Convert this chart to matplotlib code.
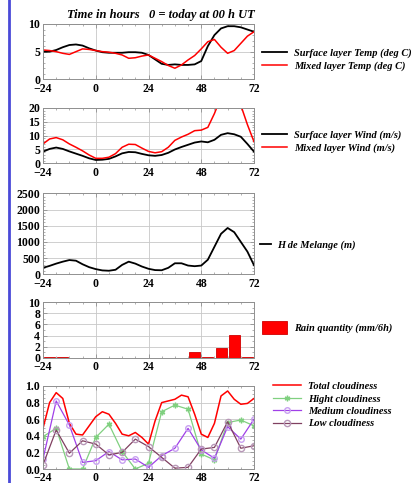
import matplotlib
matplotlib.use('Agg')
import matplotlib.pyplot as plt
from matplotlib.lines import Line2D
from matplotlib.ticker import MultipleLocator

plt.rcParams['font.family'] = ['Liberation Serif', 'DejaVu Serif']
plt.rcParams['font.weight'] = 'bold'

# DATA (3 h steps for the curves, 6 h for clouds)
hours = list(range(-24, 73, 3))
temp_surface = [5.0, 5.0, 5.3, 5.8, 6.2, 6.3, 6.1, 5.6, 5.2, 4.9, 4.8, 4.8, 4.8, 4.9, 4.9, 4.8, 4.4,
                3.6, 2.8, 2.6, 2.7, 2.6, 2.6, 2.7, 3.3, 6.0, 8.0, 9.2, 9.6, 9.6, 9.4, 9.0, 8.6]
temp_mixed = [5.3, 5.2, 5.0, 4.7, 4.5, 5.0, 5.5, 5.4, 5.2, 5.0, 4.9, 4.7, 4.4, 3.8, 3.9, 4.2, 4.4,
              3.8, 3.2, 2.5, 2.0, 2.6, 3.5, 4.3, 5.5, 6.8, 7.2, 5.8, 4.7, 5.2, 6.5, 7.8, 8.6]
wind_surface = [4.2, 5.2, 5.7, 5.2, 4.3, 3.5, 2.7, 1.8, 1.2, 1.3, 1.6, 2.5, 3.6, 4.1, 4.0, 3.4, 2.9,
                2.7, 3.0, 3.8, 5.0, 5.9, 6.7, 7.5, 7.9, 7.6, 8.5, 10.3, 10.9, 10.5, 9.6, 7.0, 4.2]
wind_mixed = [7.0, 8.8, 9.3, 8.5, 7.0, 5.8, 4.5, 3.0, 1.8, 1.8, 2.2, 3.5, 5.8, 6.9, 6.8, 5.5, 4.3,
              3.8, 4.2, 5.8, 8.3, 9.5, 10.5, 11.8, 12.0, 13.0, 18.0, 24.0, 30.0, 28.0, 21.0, 14.0, 7.8]
mixing_height = [200, 260, 330, 390, 440, 420, 310, 220, 160, 120, 110, 140, 290, 390, 330, 240, 170,
                 130, 125, 200, 340, 340, 270, 250, 270, 450, 850, 1250, 1430, 1300, 1000, 700, 280]

rain_hours = list(range(-21, 70, 6))
rain = [0.1, 0.1, 0, 0, 0, 0, 0, 0, 0, 0, 0, 1.0, 0.2, 1.7, 4.1, 0.1]

cloud_hours = list(range(-24, 73, 6))
cloud_total = [0.49, 0.80, 0.92, 0.85, 0.55, 0.42, 0.41, 0.52, 0.63, 0.69, 0.66, 0.55, 0.42, 0.40, 0.44,
               0.38, 0.30, 0.58, 0.80, 0.82, 0.84, 0.89, 0.87, 0.66, 0.42, 0.38, 0.55, 0.88, 0.94, 0.84,
               0.78, 0.79, 0.85]
cloud_high = [0.39, 0.49, 0.0, 0.0, 0.38, 0.54, 0.21, 0.0, 0.07, 0.69, 0.77, 0.72, 0.18, 0.11, 0.56, 0.59, 0.52]
cloud_medium = [0.12, 0.82, 0.53, 0.08, 0.10, 0.21, 0.11, 0.12, 0.02, 0.16, 0.25, 0.49, 0.23, 0.13, 0.51, 0.36, 0.60]
cloud_low = [0.05, 0.47, 0.19, 0.34, 0.30, 0.17, 0.20, 0.36, 0.27, 0.14, 0.01, 0.02, 0.24, 0.26, 0.57, 0.25, 0.28]

W, H = 411, 483
fig = plt.figure(figsize=(W / 100, H / 100), dpi=100)
fig.add_artist(Line2D([9 / W, 9 / W], [0, 1], color='#4a4ad8', lw=2))


def make_axes(top, bottom):
    ax = fig.add_axes([43 / W, 1 - bottom / H, 211 / W, (bottom - top) / H])
    ax.set_xlim(-24, 72)
    ax.set_xticks([-24, 0, 24, 48, 72])
    ax.set_xticklabels(['\u221224', '0', '24', '48', '72'])
    ax.xaxis.set_minor_locator(MultipleLocator(6))
    ax.tick_params(which='both', direction='in', top=True, right=True, colors='#909090',
                   labelcolor='black', labelsize=8.5, pad=2)
    ax.tick_params(axis='x', pad=2.5)
    ax.tick_params(which='major', length=3, width=0.6)
    ax.tick_params(which='minor', length=1.5, width=0.5)
    ax.grid(True, which='major', color='#c8c8c8', lw=0.6)
    for s in ax.spines.values():
        s.set_color('#909090')
        s.set_linewidth(0.7)
    return ax


leg_kw = dict(frameon=False, loc='center left', prop=dict(style='italic', weight='bold', size=7.5),
              handletextpad=0.65, labelspacing=0.3, borderaxespad=0)

# panel 1 : temperature
ax1 = make_axes(24, 79.3)
ax1.plot(hours, temp_surface, color='black', lw=1.3, label='Surface layer Temp (deg C)')
ax1.plot(hours, temp_mixed, color='red', lw=1.1, label='Mixed layer Temp (deg C)')
ax1.set_ylim(0, 10)
ax1.yaxis.set_major_locator(MultipleLocator(5))
ax1.yaxis.set_minor_locator(MultipleLocator(1))
ax1.legend(bbox_to_anchor=(1.02, 0.36), handlelength=2.4, **leg_kw)
ax1.set_title('Time in hours   0 = today at 00 h UT', fontsize=9, style='italic',
              fontweight='bold', pad=4, x=0.56)

# panel 2 : wind
ax2 = make_axes(108, 163.3)
ax2.plot(hours, wind_surface, color='black', lw=1.3, label='Surface layer Wind (m/s)')
ax2.plot(hours, wind_mixed, color='red', lw=1.1, label='Mixed layer Wind (m/s)')
ax2.set_ylim(0, 20)
ax2.yaxis.set_major_locator(MultipleLocator(5))
ax2.yaxis.set_minor_locator(MultipleLocator(1))
ax2.legend(bbox_to_anchor=(1.02, 0.39), handlelength=2.4, **leg_kw)

# panel 3 : mixing height
ax3 = make_axes(193.3, 274.3)
ax3.plot(hours, mixing_height, color='black', lw=1.3, label='H de Melange (m)')
ax3.set_ylim(0, 2500)
ax3.yaxis.set_major_locator(MultipleLocator(500))
ax3.yaxis.set_minor_locator(MultipleLocator(100))
ax3.legend(bbox_to_anchor=(1.01, 0.36), handlelength=1.0, **leg_kw)

# panel 4 : rain
ax4 = make_axes(302.3, 357.7)
ax4.bar(rain_hours, rain, width=5, color='red', edgecolor='#d00000', lw=0.6,
        label='Rain quantity (mm/6h)', zorder=3)
ax4.set_ylim(0, 10)
ax4.yaxis.set_major_locator(MultipleLocator(2))
ax4.yaxis.set_minor_locator(MultipleLocator(1))
ax4.legend(bbox_to_anchor=(1.02, 0.55), handlelength=2.4, handleheight=1.5, **leg_kw)

# panel 5 : cloudiness
ax5 = make_axes(386, 469)
ax5.plot(hours, cloud_total, color='red', lw=1.1, label='Total cloudiness')
ax5.plot(cloud_hours, cloud_high, color='#80d080', lw=0.9, marker=(6, 2, 0), ms=4,
         mec='#80d080', label='Hight cloudiness')
ax5.plot(cloud_hours, cloud_medium, color='#a040e8', lw=0.9, marker='o', ms=4,
         mfc='none', mec='#c8a0f0', label='Medium cloudiness')
ax5.plot(cloud_hours, cloud_low, color='#804060', lw=0.9, marker='o', ms=4.5,
         mfc='none', mec='#b898b8', label='Low cloudiness')
ax5.set_ylim(0, 1.0)
ax5.yaxis.set_major_locator(MultipleLocator(0.2))
ax5.yaxis.set_minor_locator(MultipleLocator(0.05))
ax5.yaxis.set_major_formatter(plt.FormatStrFormatter('%.1f'))
ax5.legend(bbox_to_anchor=(1.07, 0.77), handlelength=2.7, **leg_kw)

for ax in [ax1, ax2, ax3, ax4, ax5]:
    for lab in ax.get_xticklabels() + ax.get_yticklabels():
        lab.set_fontweight('bold')

fig.savefig('out.png', dpi=100)
